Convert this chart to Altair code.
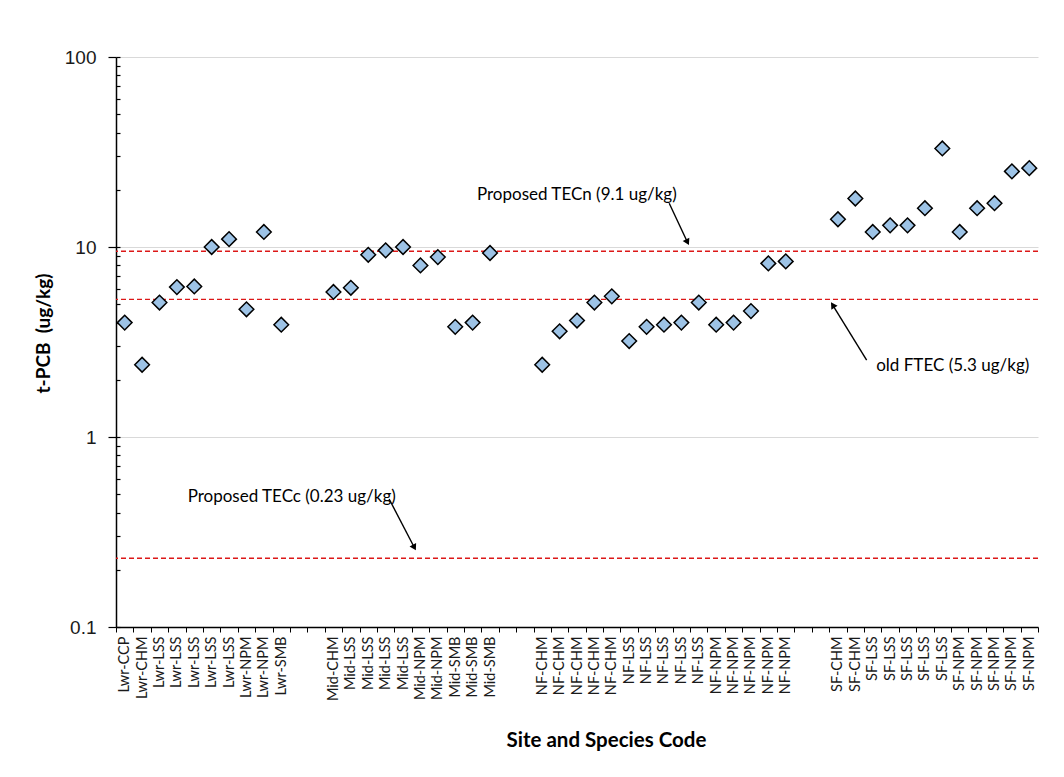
import altair as alt
import pandas as pd

# ---- data ----
categories = (
    ["Lwr-CCP", "Lwr-CHM"] + ["Lwr-LSS"] * 5 + ["Lwr-NPM"] * 2 + ["Lwr-SMB"] + ["", ""]
    + ["Mid-CHM"] + ["Mid-LSS"] * 4 + ["Mid-NPM"] * 2 + ["Mid-SMB"] * 3 + ["", ""]
    + ["NF-CHM"] * 5 + ["NF-LSS"] * 5 + ["NF-NPM"] * 5 + ["", ""]
    + ["SF-CHM"] * 2 + ["SF-LSS"] * 5 + ["SF-NPM"] * 5
)
lwr_vals = [4.0, 2.4, 5.1, 6.15, 6.2, 10.0, 11.0, 4.7, 12.0, 3.9]
mid_vals = [5.8, 6.1, 9.1, 9.6, 10.0, 8.0, 8.85, 3.8, 4.0, 9.3]
nf_vals = [2.4, 3.6, 4.1, 5.1, 5.5, 3.2, 3.8, 3.9, 4.0, 5.1, 3.9, 4.0, 4.6, 8.2, 8.4]
sf_vals = [14.0, 18.0, 12.0, 13.0, 13.0, 16.0, 33.0, 12.0, 16.0, 17.0, 25.0, 26.0]
values = lwr_vals + mid_vals + nf_vals + sf_vals

ref_values = [9.5, 5.3, 0.23]

ann_text = ["Proposed TECn (9.1 ug/kg)", "old FTEC (5.3 ug/kg)", "Proposed TECc (0.23 ug/kg)"]
ann_x = [20.75, 43.7, 4.12]
ann_y = [18.8, 2.36, 0.483]

arrow_x = [31.8, 43.15, 15.7]
arrow_y = [17.0, 2.54, 0.472]
arrow_x2 = [32.85, 41.2, 17.15]
arrow_y2 = [10.6, 4.95, 0.262]
arrow_angle = [153, 327, 152]

y_major = [0.1, 1, 10, 100]
y_minor = [0.1, 0.2, 0.3, 0.4, 0.5, 0.6, 0.7, 0.8, 0.9,
           1, 2, 3, 4, 5, 6, 7, 8, 9,
           10, 20, 30, 40, 50, 60, 70, 80, 90, 100]

# ---- tables ----
n_slots = len(categories)
positions = [i + 0.5 for i, c in enumerate(categories) if c]
labels = [c for c in categories if c]
df = pd.DataFrame({"pos": positions, "label": labels, "value": values})
ref_df = pd.DataFrame({"ref": ref_values})
ann_df = pd.DataFrame({"text": ann_text, "x": ann_x, "y": ann_y})
arr_df = pd.DataFrame({"x": arrow_x, "y": arrow_y, "x2": arrow_x2, "y2": arrow_y2, "ang": arrow_angle})

FONT = "Lato"
xscale = alt.Scale(domain=[0, n_slots], nice=False, zero=False)
yscale = alt.Scale(type="log", domain=[0.1, 100], nice=False)

label_expr = "[" + ",".join("'" + c + "'" for c in categories) + "][floor(datum.value)]"

x_label_axis = alt.Axis(
    orient="bottom", values=positions, labelExpr=label_expr, labelAngle=270,
    labelAlign="right", labelBaseline="middle", labelFont=FONT, labelFontSize=14.5,
    labelColor="#1a1a1a", ticks=False, labelPadding=9, domain=True, domainColor="#000000",
    domainWidth=1.5, grid=False, labelOverlap=False, title="Site and Species Code",
    titleFont=FONT, titleFontSize=20.5, titleFontWeight="bold", titleColor="#000000",
    titleX=490, titleY=113, titleAlign="center", titleBaseline="middle",
)
x_tick_axis = alt.Axis(
    orient="bottom", values=list(range(n_slots + 1)), labels=False, ticks=True,
    tickSize=5, tickColor="#000000", tickWidth=1, domain=False, grid=False, title=None,
)
y_main_axis = alt.Axis(
    orient="left", values=y_major, format="~g", labelFont="Liberation Sans",
    labelFontSize=19, labelColor="#1a1a1a", tickSize=8, tickColor="#000000", tickWidth=1.2,
    labelPadding=12, domain=True, domainColor="#000000", domainWidth=1.5,
    grid=True, gridColor="#d9d9d9", gridWidth=1,
    title="t-PCB\u00a0 (ug/kg)", titleFont=FONT, titleFontSize=19, titleFontWeight="bold",
    titleColor="#000000", titleAngle=270, titleX=-73, titleY=276, titleAlign="center",
    titleBaseline="middle",
)
y_minor_axis = alt.Axis(
    orient="left", values=y_minor, labels=False, ticks=True, tickSize=4,
    tickColor="#000000", tickWidth=1.2, offset=-4, domain=False, grid=False, title=None,
)

base = alt.Chart(df)

ticks_layer = base.mark_point(opacity=0).encode(
    x=alt.X("pos:Q", scale=xscale, axis=x_tick_axis),
    y=alt.Y("value:Q", scale=yscale, axis=y_minor_axis),
)

ref_layer = alt.Chart(ref_df).mark_rule(color="#dc1818", strokeDash=[5, 3], strokeWidth=1.3).encode(
    y=alt.Y("ref:Q", scale=yscale, axis=None)
)

points = base.mark_point(
    shape="diamond", filled=True, fill="#9dc3e6", stroke="#000000", strokeWidth=1.5,
    size=215, opacity=1,
).encode(
    x=alt.X("pos:Q", scale=xscale, axis=x_label_axis),
    y=alt.Y("value:Q", scale=yscale, axis=y_main_axis),
    tooltip=["label:N", "value:Q"],
)

arrows = alt.Chart(arr_df).mark_rule(color="#000000", strokeWidth=1.4).encode(
    x=alt.X("x:Q", scale=xscale, axis=None),
    y=alt.Y("y:Q", scale=yscale, axis=None),
    x2="x2:Q",
    y2="y2:Q",
)
heads = alt.Chart(arr_df).mark_point(shape="triangle-up", filled=True, color="#000000",
                                     size=55, opacity=1).encode(
    x=alt.X("x2:Q", scale=xscale, axis=None),
    y=alt.Y("y2:Q", scale=yscale, axis=None),
    angle=alt.Angle("ang:Q", scale=None),
)

ann = alt.Chart(ann_df).mark_text(align="left", baseline="middle", font=FONT, fontSize=17,
                                  color="#000000").encode(
    x=alt.X("x:Q", scale=xscale, axis=None),
    y=alt.Y("y:Q", scale=yscale, axis=None),
    text="text:N",
)

chart = alt.layer(ticks_layer, ref_layer, points, arrows, heads, ann).resolve_axis(
    x="independent", y="independent"
).properties(
    width=922, height=570,
    autosize=alt.AutoSizeParams(type="none"),
    padding={"left": 108, "top": 49, "right": 18, "bottom": 142},
    background="#ffffff",
).configure_view(stroke=None)

chart.save("out.html", embed_options={"renderer": "svg", "actions": False})
